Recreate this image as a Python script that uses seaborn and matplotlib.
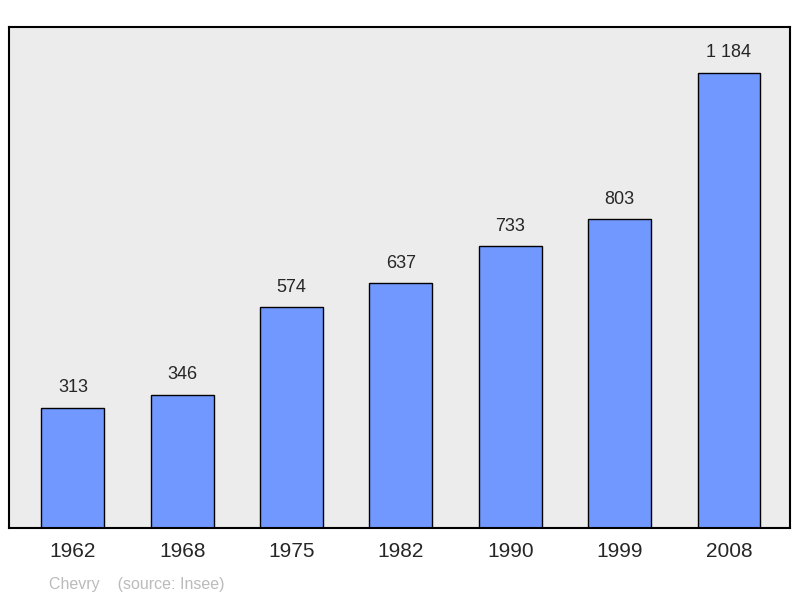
import matplotlib
matplotlib.use("Agg")
import matplotlib.pyplot as plt
import seaborn as sns

years = ["1962", "1968", "1975", "1982", "1990", "1999", "2008"]
population = [313, 346, 574, 637, 733, 803, 1184]
labels = ["313", "346", "574", "637", "733", "803", "1 184"]

sns.set_style("white")
plt.rcParams['font.family'] = ['Liberation Sans', 'DejaVu Sans']

fig = plt.figure(figsize=(8, 5.98), dpi=100)
ax = fig.add_axes([9/800, 1-528/598, 781/800, 501/598])
ax.set_facecolor("#ececec")
sns.barplot(x=years, y=population, ax=ax, color="#7098ff", saturation=1,
            width=0.576, edgecolor="black", linewidth=1)
ax.set_xlim(-0.585, 6.558)
ax.set_ylim(0, 1303.6)
for i, (v, t) in enumerate(zip(population, labels)):
    ax.text(i, v + 30, t, ha="center", va="bottom", fontsize=13)
ax.set_yticks([])
ax.tick_params(axis="x", length=0, labelsize=15, pad=10)
for s in ax.spines.values():
    s.set_linewidth(1.5)
    s.set_color("black")
ax.set_xlabel("")
ax.set_ylabel("")
fig.text(49/800, 1-584/598, "Chevry    (source: Insee)", color="#bbbbbb",
         fontsize=11.5, va="center")
fig.savefig("out.png", dpi=100)
